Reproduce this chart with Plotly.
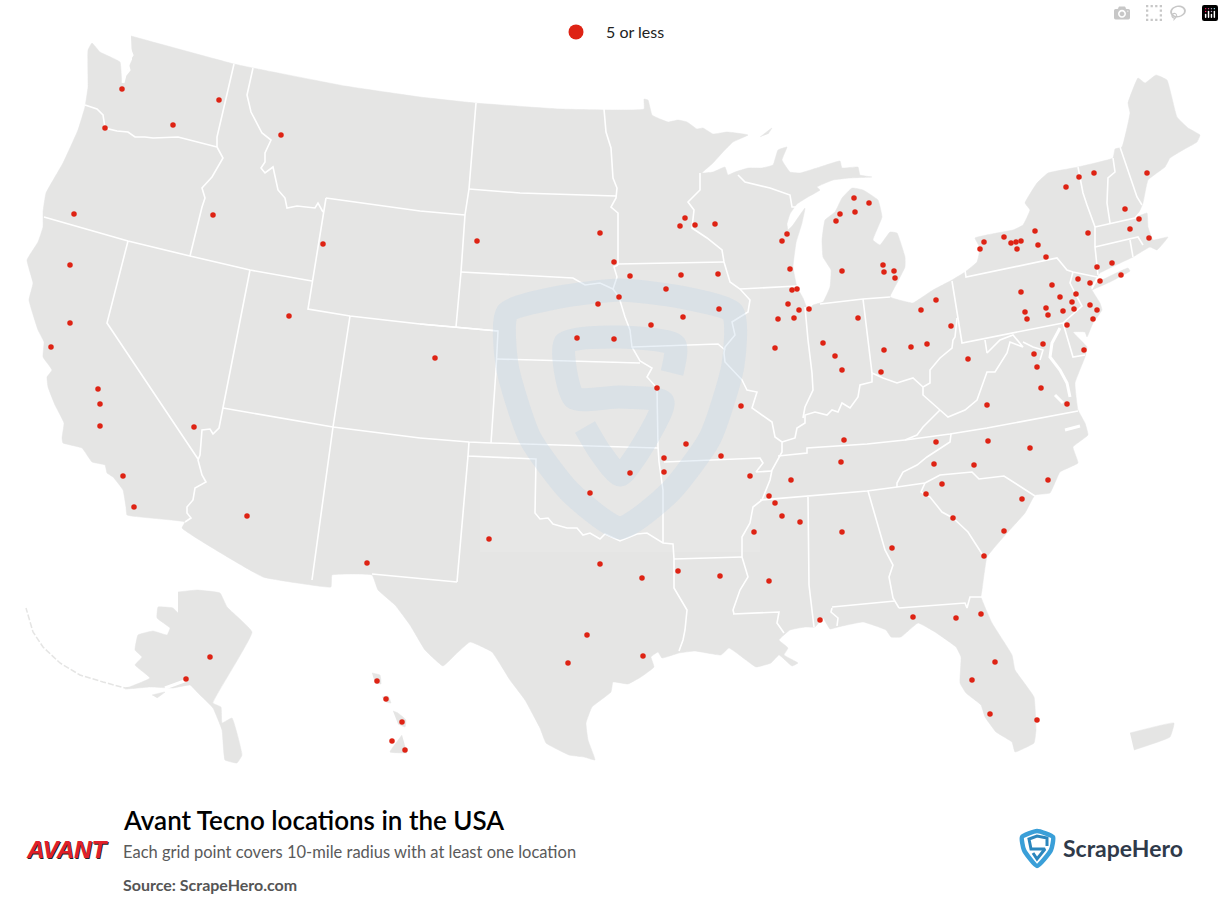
import plotly.graph_objects as go

point_x = [122, 219, 173, 105, 281, 74, 213, 323, 70, 70, 51, 289, 98, 100, 100, 194, 123, 134, 247, 367,
           477, 600, 614, 685, 680, 695, 715, 787, 782, 790, 630, 681, 718, 666, 792, 797, 619, 598, 788, 719,
           799, 809, 683, 794, 778, 651, 577, 614, 775, 435, 1147, 1094, 1079, 1066, 854, 869, 855, 840, 836, 1125,
           1139, 1130, 1149, 1088, 1035, 1004, 984, 980, 1011, 1016, 1021, 1017, 1038, 1046, 1097, 1112, 1121, 1078, 1090, 1100,
           1052, 1021, 1060, 1076, 1072, 842, 883, 884, 894, 895, 936, 921, 1046, 1025, 1027, 1048, 1063, 1074, 1090, 1097,
           1093, 1067, 951, 858, 823, 835, 884, 911, 927, 968, 1043, 1034, 1084, 842, 881, 1037, 1041, 1067, 987, 741,
           844, 936, 988, 1030, 721, 750, 841, 791, 934, 974, 1048, 942, 926, 1022, 769, 775, 782, 800, 953, 754,
           842, 1004, 892, 984, 769, 820, 657, 686, 664, 630, 664, 590, 489, 600, 642, 678, 720, 587, 568, 643,
           913, 956, 981, 995, 972, 990, 1037, 210, 186, 377, 386, 402, 392, 405]
point_y = [89, 100, 125, 128, 135, 214, 215, 244, 265, 323, 347, 316, 389, 404, 426, 427, 476, 507, 516, 563,
           241, 233, 262, 218, 226, 225, 224, 234, 241, 269, 276, 275, 274, 289, 290, 289, 297, 304, 304, 309,
           310, 309, 317, 318, 319, 325, 338, 339, 348, 358, 173, 173, 177, 187, 198, 203, 212, 214, 221, 209,
           219, 229, 238, 233, 231, 237, 242, 249, 243, 242, 241, 249, 245, 257, 267, 263, 275, 279, 283, 281,
           285, 292, 297, 294, 302, 271, 265, 272, 271, 278, 300, 310, 308, 312, 319, 315, 311, 309, 305, 310,
           319, 325, 326, 318, 343, 356, 350, 347, 344, 359, 344, 354, 350, 370, 372, 367, 388, 404, 405, 406,
           440, 442, 441, 448, 456, 476, 462, 480, 464, 465, 480, 484, 494, 499, 496, 503, 516, 522, 518, 532,
           532, 531, 548, 556, 581, 620, 388, 444, 458, 473, 472, 493, 539, 564, 578, 571, 576, 635, 663, 656,
           617, 618, 614, 662, 680, 714, 720, 657, 679, 681, 699, 722, 741, 750]

conus_outline = [
    (131, 36), (234, 64), (253, 68), (345, 86), (420, 97), (475, 103), (560, 109), (644, 109), (644, 99), (648, 100),
    (652, 115), (660, 119), (668, 122), (678, 120), (687, 122), (697, 129), (703, 128), (713, 134), (727, 132), (748, 135),
    (733, 142), (723, 152), (713, 163), (702, 173), (713, 172), (725, 167), (728, 175), (735, 172), (748, 168), (762, 168),
    (773, 165), (778, 150), (787, 147), (782, 160), (790, 172), (800, 173), (820, 167), (840, 161), (842, 168), (858, 167),
    (860, 175), (872, 177), (850, 178), (833, 180), (817, 187), (820, 190), (808, 197), (797, 204), (790, 214), (787, 224),
    (788, 230), (793, 225), (805, 208), (802, 223), (796, 243), (793, 267), (797, 287), (803, 298), (808, 310), (813, 305),
    (823, 302), (830, 287), (831, 270), (823, 257), (822, 240), (825, 220), (835, 212), (842, 198), (852, 188), (863, 190),
    (878, 200), (882, 217), (873, 240), (880, 245), (890, 232), (897, 233), (905, 257), (905, 267), (897, 283), (890, 297),
    (907, 302), (913, 303), (933, 290), (952, 280), (965, 272), (977, 262), (980, 248), (975, 238), (997, 233), (1013, 230),
    (1023, 225), (1030, 210), (1025, 203), (1037, 183), (1048, 173), (1078, 167), (1113, 158), (1115, 149), (1122, 147), (1130, 113),
    (1128, 103), (1138, 78), (1145, 83), (1156, 75), (1167, 80), (1177, 117), (1188, 128), (1200, 135), (1197, 142), (1183, 150),
    (1170, 158), (1165, 167), (1148, 180), (1143, 203), (1138, 216), (1147, 213), (1148, 227), (1153, 240), (1168, 237), (1157, 250),
    (1150, 247), (1133, 257), (1100, 273), (1096, 278), (1091, 288), (1100, 303), (1102, 310), (1093, 323), (1087, 337), (1085, 332),
    (1073, 332), (1087, 347), (1085, 357), (1075, 383), (1078, 410), (1085, 423), (1088, 435), (1073, 447), (1078, 463), (1060, 472),
    (1050, 493), (1035, 495), (1025, 513), (1007, 533), (987, 557), (982, 590), (981, 597), (992, 623), (1012, 655), (1015, 670),
    (1034, 697), (1036, 730), (1034, 743), (1015, 752), (1012, 742), (996, 732), (985, 717), (981, 705), (966, 693), (960, 683),
    (961, 657), (956, 647), (935, 632), (918, 623), (901, 637), (891, 637), (886, 630), (863, 622), (838, 627), (830, 629),
    (823, 618), (815, 627), (805, 627), (790, 630), (779, 640), (788, 648), (784, 655), (798, 663), (792, 666), (779, 655),
    (771, 663), (756, 667), (746, 660), (729, 648), (721, 655), (695, 651), (679, 653), (662, 658), (658, 652), (651, 657),
    (654, 667), (641, 677), (628, 684), (613, 682), (611, 692), (592, 707), (586, 723), (588, 740), (595, 760), (584, 757),
    (569, 755), (546, 743), (540, 728), (525, 700), (510, 680), (492, 652), (470, 642), (455, 655), (443, 666), (425, 650),
    (410, 625), (395, 605), (378, 590), (372, 575), (332, 575), (331, 587), (311, 585), (263, 577), (182, 528), (185, 522),
    (127, 515), (126, 507), (123, 490), (113, 477), (107, 473), (105, 465), (92, 462), (82, 448), (63, 443), (62, 438),
    (64, 423), (55, 405), (48, 387), (47, 377), (52, 370), (43, 357), (44, 342), (38, 330), (29, 300), (33, 283),
    (27, 260), (38, 242), (43, 227), (43, 212), (46, 193), (63, 163), (78, 130), (85, 107), (88, 87), (88, 50),
    (92, 43), (100, 52), (120, 62), (122, 82), (132, 60),
]
long_island = [(1096, 283), (1128, 268), (1130, 271), (1110, 282), (1092, 290)]
isle_royale = [(760, 137), (772, 128), (768, 134)]
alaska = [
    (178, 592), (197, 590), (220, 593), (227, 607), (252, 632), (213, 703), (221, 707), (222, 723), (232, 718), (242, 755),
    (237, 763), (225, 760), (222, 730), (213, 708), (198, 693), (190, 685), (173, 688), (150, 687), (125, 689), (150, 678),
    (135, 665), (142, 657), (135, 650), (138, 635), (153, 631), (167, 635), (170, 628), (157, 618), (158, 607), (173, 608),
    (178, 613),
]
aleutians = [(153, 684), (125, 688), (103, 682), (80, 675), (60, 663), (43, 647), (33, 632), (26, 608)]
kodiak = [(152, 695), (165, 692), (157, 698)]
kauai = [(372, 673), (380, 675), (381, 684), (375, 683)]
oahu = [(382, 697), (388, 696), (391, 703), (386, 702)]
maui = [(393, 711), (398, 713), (406, 720), (405, 727), (398, 724)]
big_island = [(402, 735), (390, 752), (407, 753)]
puerto_rico = [(1130, 733), (1174, 723), (1170, 737), (1134, 750)]

state_borders = [
    [(234, 64), (217, 137), (217, 147)],
    [(85, 105), (97, 109), (103, 115), (105, 128), (117, 131), (128, 132), (135, 137), (145, 137), (153, 138), (178, 137), (217, 147)],
    [(217, 147), (223, 158), (212, 177), (202, 188), (205, 198), (202, 207), (190, 256)],
    [(44, 217), (128, 241), (190, 256), (250, 270), (312, 281)],
    [(253, 68), (247, 95), (251, 112), (262, 133), (271, 140), (265, 153), (265, 162), (261, 168), (265, 173), (273, 167),
     (278, 190), (285, 198), (287, 208), (297, 206), (315, 208), (318, 203), (323, 212)],
    [(326, 198), (420, 211), (465, 215)],
    [(326, 198), (312, 281), (308, 309), (350, 316), (420, 324), (498, 331)],
    [(476, 103), (469, 189), (465, 215), (461, 272), (456, 327)],
    [(469, 189), (520, 193), (616, 196)],
    [(461, 272), (573, 278), (585, 285), (600, 283), (613, 289)],
    [(604, 109), (606, 132), (611, 148), (613, 178), (617, 188), (616, 198), (611, 207), (618, 213), (618, 265)],
    [(618, 265), (614, 267), (617, 277), (613, 289), (619, 297), (625, 317), (630, 330), (632, 347), (640, 361), (652, 368),
     (647, 377), (657, 388), (658, 447), (659, 462), (663, 490), (663, 543)],
    [(618, 264), (724, 262)],
    [(700, 173), (700, 190), (688, 202), (694, 210), (692, 228), (707, 238), (722, 250), (724, 262), (730, 282), (740, 289),
     (750, 300), (748, 312), (732, 322), (735, 335), (725, 347), (724, 353), (725, 362), (742, 380), (747, 390), (757, 392),
     (752, 408), (772, 422), (775, 437), (782, 442), (782, 452), (772, 470), (770, 480), (762, 500), (753, 507), (750, 523),
     (742, 537), (742, 557), (748, 577), (740, 590), (733, 610), (734, 614)],
    [(740, 289), (797, 286)],
    [(738, 175), (745, 182), (770, 188), (790, 195), (792, 207), (796, 207)],
    [(632, 347), (718, 344), (725, 350)],
    [(497, 359), (640, 363)],
    [(420, 324), (498, 331), (496, 370), (491, 443)],
    [(420, 438), (469, 442), (491, 443), (658, 448)],
    [(350, 316), (333, 427), (312, 580)],
    [(223, 408), (333, 427), (420, 438)],
    [(250, 270), (223, 408), (219, 428), (213, 434), (210, 429), (202, 430), (200, 455), (198, 460), (202, 475), (206, 482),
     (195, 488), (193, 500), (187, 507), (187, 513), (191, 518), (185, 522)],
    [(128, 241), (107, 323), (198, 459)],
    [(468, 456), (457, 582)],
    [(372, 574), (457, 582)],
    [(469, 442), (468, 456), (536, 459), (535, 513), (540, 519), (548, 518), (553, 524), (567, 528), (577, 528), (583, 535),
     (590, 533), (600, 539), (605, 534), (620, 541), (637, 534), (647, 533), (663, 543), (673, 544), (674, 559), (674, 588),
     (687, 610), (685, 630), (683, 640), (679, 651)],
    [(664, 462), (760, 458), (763, 463), (756, 472), (772, 471)],
    [(674, 559), (742, 557)],
    [(733, 614), (779, 612), (777, 623), (784, 633)],
    [(805, 307), (808, 340), (812, 373), (813, 390), (805, 407), (803, 418)],
    [(782, 442), (795, 438), (797, 428), (805, 423), (805, 415), (815, 412), (827, 415), (832, 410), (838, 412), (842, 403),
     (850, 408), (858, 397), (860, 385), (872, 382), (872, 373), (883, 378), (897, 383), (913, 378), (923, 387)],
    [(863, 299), (868, 340), (872, 373)],
    [(820, 304), (863, 299), (890, 297)],
    [(952, 281), (962, 343), (1063, 323)],
    [(957, 318), (955, 337), (953, 340), (952, 348), (940, 358), (930, 370), (930, 383), (923, 387), (923, 395), (940, 410)],
    [(940, 410), (923, 427), (917, 435), (905, 440)],
    [(940, 410), (948, 417), (965, 410), (977, 400), (987, 372), (995, 372), (1007, 353), (1010, 342), (1023, 347), (1013, 335),
     (1000, 340), (987, 353), (985, 340)],
    [(1023, 342), (1033, 347), (1043, 350), (1040, 360)],
    [(1063, 323), (1073, 357), (1085, 355)],
    [(905, 440), (950, 434), (987, 428), (1078, 411)],
    [(778, 456), (807, 453), (807, 448), (867, 444), (905, 440)],
    [(951, 434), (950, 442), (927, 457), (917, 465), (903, 472), (897, 483), (897, 487)],
    [(760, 500), (808, 496), (867, 491), (897, 487), (925, 483)],
    [(925, 483), (940, 475), (972, 472), (979, 479), (1004, 476), (1035, 496)],
    [(925, 483), (921, 492), (930, 497), (942, 512), (953, 518), (968, 532), (975, 543), (984, 557)],
    [(808, 497), (809, 585), (814, 627)],
    [(868, 491), (885, 550), (893, 565), (889, 577), (893, 598), (899, 608)],
    [(832, 607), (895, 601)],
    [(832, 608), (831, 612), (838, 618), (837, 626)],
    [(899, 608), (965, 603), (967, 608), (970, 597), (982, 597)],
    [(965, 270), (966, 277), (1057, 258), (1067, 270), (1073, 272), (1097, 277)],
    [(1073, 272), (1070, 283), (1077, 297), (1082, 306), (1072, 315), (1063, 323)],
    [(1078, 167), (1083, 193), (1087, 205), (1095, 227), (1095, 247), (1097, 267), (1098, 275)],
    [(1113, 158), (1115, 172), (1108, 178), (1107, 203), (1110, 223)],
    [(1095, 227), (1135, 218), (1142, 210)],
    [(1120, 147), (1137, 197), (1142, 205)],
    [(1095, 247), (1138, 237), (1143, 245)],
    [(1130, 240), (1133, 257)],
]
# water cut into the land: Puget Sound, Chesapeake, Pamlico, Cook Inlet
water_lines = [
    [(128, 45), (132, 55), (127, 63), (129, 70), (125, 75), (123, 83)],
    [(1060, 328), (1052, 343), (1050, 357), (1060, 370), (1067, 383), (1070, 397)],
    [(1055, 395), (1063, 403)],
    [(1065, 430), (1080, 426)],
    [(165, 688), (180, 682), (187, 680)],
]

watermark_box = [(480, 270), (760, 270), (760, 552), (480, 552)]
shield_outer = [(507, 313), (560, 297), (620, 290), (680, 297), (733, 313), (733, 365), (710, 438), (670, 492), (620, 528),
                (570, 492), (530, 438), (507, 365), (507, 313)]
shield_letter = [(672, 373), (675, 345), (620, 337), (565, 343), (574, 398), (620, 397), (663, 402), (643, 445), (620, 475),
                 (600, 452), (585, 427)]
logo_outer = [(1022, 837), (1037, 831), (1053, 837), (1051, 850), (1037, 866), (1024, 850), (1022, 837)]
logo_letter = [(1047, 846), (1047, 838), (1037, 836), (1029, 839), (1031, 849), (1045, 849), (1037, 859), (1033, 853)]

legend_label = '5 or less'
title_text = 'Avant Tecno locations in the USA'
subtitle_text = 'Each grid point covers 10-mile radius with at least one location'
source_text = 'Source: ScrapeHero.com'

LAND = '#e5e5e4'
RED = '#de2314'
FONT = 'Lato'


def xs(pts):
    return [p[0] for p in pts]


def ys(pts):
    return [p[1] for p in pts]


def joined(lines):
    # one trace, polylines split with None
    x, y = [], []
    for pts in lines:
        x += xs(pts) + [None]
        y += ys(pts) + [None]
    return x, y


fig = go.Figure()

for shape in [conus_outline, long_island, isle_royale, alaska, kodiak, kauai, oahu, maui, big_island, puerto_rico]:
    fig.add_trace(go.Scatter(
        x=xs(shape), y=ys(shape),
        mode='lines', fill='toself', fillcolor=LAND,
        line=dict(color=LAND, width=0.5, shape='spline', smoothing=0.3),
        hoverinfo='skip', showlegend=False,
    ))

fig.add_trace(go.Scatter(
    x=xs(aleutians), y=ys(aleutians),
    mode='lines', line=dict(color=LAND, width=1.5, dash='6px,2px'),
    hoverinfo='skip', showlegend=False,
))

bx, by = joined(state_borders)
fig.add_trace(go.Scatter(
    x=bx, y=by, mode='lines',
    line=dict(color='white', width=1.6),
    hoverinfo='skip', showlegend=False,
))
wx, wy = joined(water_lines)
fig.add_trace(go.Scatter(
    x=wx, y=wy, mode='lines',
    line=dict(color='white', width=3),
    hoverinfo='skip', showlegend=False,
))

# watermark sits over the borders
fig.add_trace(go.Scatter(
    x=xs(watermark_box), y=ys(watermark_box), mode='lines', fill='toself',
    fillcolor='rgba(255,255,255,0.08)', line=dict(width=0),
    hoverinfo='skip', showlegend=False,
))
for pts in [shield_outer, shield_letter]:
    fig.add_trace(go.Scatter(
        x=xs(pts), y=ys(pts), mode='lines',
        line=dict(color='rgba(190,214,232,0.33)', width=23, shape='spline', smoothing=0.6),
        hoverinfo='skip', showlegend=False,
    ))

fig.add_trace(go.Scatter(
    x=point_x, y=point_y, mode='markers',
    marker=dict(color=RED, size=5.5),
    hoverinfo='skip', showlegend=False,
))
# legend swatch is bigger than the points
fig.add_trace(go.Scatter(
    x=[None], y=[None], mode='markers',
    marker=dict(color=RED, size=15),
    name=legend_label,
))

fig.add_trace(go.Scatter(
    x=xs(logo_outer), y=ys(logo_outer), mode='lines',
    line=dict(color='#3a9fd8', width=4.5, shape='spline', smoothing=0.5),
    hoverinfo='skip', showlegend=False,
))
fig.add_trace(go.Scatter(
    x=xs(logo_letter), y=ys(logo_letter), mode='lines',
    line=dict(color='#2b86bd', width=3),
    hoverinfo='skip', showlegend=False,
))


def label(text, x, y, size, color, family=FONT, **font_kw):
    fig.add_annotation(
        text=text, x=x, y=y, xref='x', yref='y',
        xanchor='left', yanchor='middle', showarrow=False,
        font=dict(size=size, color=color, family=family, **font_kw),
    )


label(title_text, 121, 820, 26, '#000000', weight=600)
label(subtitle_text, 121, 852, 16.5, '#5a5a5a')
label(source_text, 121, 884, 16, '#555555', weight=700)
label('ScrapeHero', 1061, 848, 23, '#2f3a4a', weight=700)
label('AVANT', 24, 849, 24, '#e0202a', family='Liberation Sans', weight=700, style='italic',
      shadow='1px 1px 0 #222')

fig.update_xaxes(range=[0, 1224], visible=False, fixedrange=True)
fig.update_yaxes(range=[902, 0], visible=False, fixedrange=True)
fig.update_layout(
    width=1224, height=902,
    margin=dict(l=0, r=0, t=0, b=0),
    paper_bgcolor='white', plot_bgcolor='white',
    font=dict(family=FONT, color='#222222', size=16),
    legend=dict(x=546 / 1224, y=1 - 32 / 902, xanchor='left', yanchor='middle',
                itemwidth=50, bgcolor='rgba(0,0,0,0)', font=dict(size=16)),
)

fig.write_html('out.html', post_script="document.body.style.margin='0';document.body.style.overflow='hidden';")
